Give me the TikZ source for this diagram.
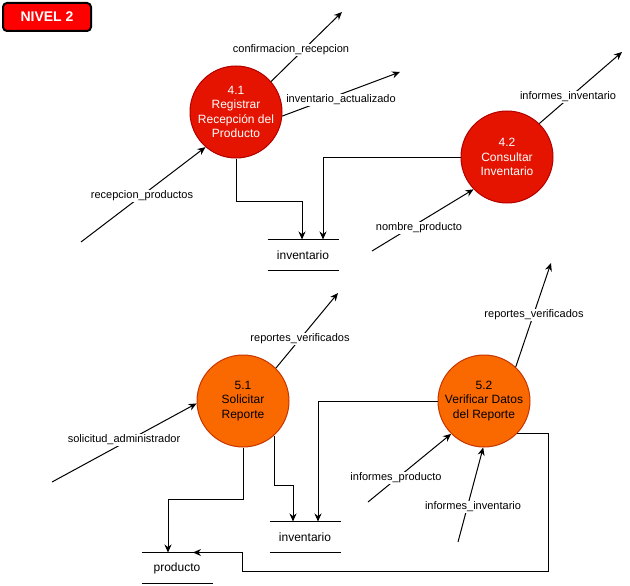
\documentclass[tikz,border=0pt]{standalone}
\usepackage{fontspec}
\setmainfont{Liberation Sans}
\usepackage{xcolor}
\usetikzlibrary{arrows.meta}

\definecolor{procred}{HTML}{E51400}
\definecolor{procredline}{HTML}{B20000}
\definecolor{procorange}{HTML}{FA6800}
\definecolor{procorangeline}{HTML}{C73500}
\definecolor{titlered}{HTML}{FF0000}

\begin{document}
\begin{tikzpicture}[x=1pt, y=-1pt, line width=1pt, >={Stealth[length=8pt,width=7pt]},
  process/.style={circle, minimum size=92pt, inner sep=0pt, align=center,
    font=\fontsize{12}{14.4}\selectfont},
  process red/.style={fill=procred, draw=procredline, text=white},
  process orange/.style={fill=procorange, draw=procorangeline, text=black},
  store/.style={minimum width=70pt, minimum height=30pt, inner sep=0pt,
    font=\fontsize{12}{14}\selectfont},
  flow label/.style={fill=white, inner sep=1pt, font=\fontsize{11}{13}\selectfont},
  title box/.style={rounded corners=4pt, fill=titlered, draw=black, line width=2pt,
    minimum width=88pt, minimum height=28pt, text=white,
    font=\bfseries\fontsize{14}{16}\selectfont}]

\useasboundingbox (0,0) rectangle (630,586);

\node [title box] (nivel) at (47,17) {NIVEL 2};

% processes
\node [process, process red] (p41) at (236,112) {4.1\\Registrar\\Recepción del\\Producto};
\node [process, process red] (p42) at (507,157) {4.2\\Consultar\\Inventario};
\node [process, process orange] (p51) at (243,401) {5.1\\Solicitar\\Reporte};
\node [process, process orange] (p52) at (484,401) {5.2\\Verificar Datos\\del Reporte};

% data stores
\node [store] (inv-1) at (303,255) {inventario};
\node [store] (inv-2) at (305,537) {inventario};
\node [store] (prod) at (177,568) {producto};

\foreach \s in {inv-1,inv-2,prod}
  \draw (\s.north west) -- (\s.north east)
        (\s.south west) -- (\s.south east);

% flows into the stores
\draw [->] (p41.south) -- ++(0,43) -| ([xshift=-1pt]inv-1.north);
\draw [->] (p42.west) -| ([xshift=20pt]inv-1.north);
\draw [->] (p51.south) -- ++(0,52) -| ([xshift=-9pt]prod.north);
\draw [->] (p51.-48) -- ++(0,50) -| ([xshift=-12pt]inv-2.north);
\draw [->] (p52.west) -| ([xshift=13pt]inv-2.north);
\draw [->] (p52.-45) -| ++(32,138) -- ++(-306,0) |- ([xshift=16pt]prod.north);

% outgoing flows
\foreach \p/\a/\ex/\ey/\lx/\ly/\t [count=\i] in {
    p41/41/342/12/291/50/confirmacion\_recepcion,
    p41/-5/400/72/341/100/inventario\_actualizado,
    p42/46/622/52/568/97/informes\_inventario,
    p51/45/338/293/300/339/reportes\_verificados,
    p52/47/551/263/534/315/reportes\_verificados}
{
  \coordinate (out-\i) at (\ex,\ey);
  \draw [->] (\p.\a) -- (out-\i);
  \node [flow label] (out-lbl-\i) at (\lx,\ly) {\t};
}

% incoming flows
\foreach \sx/\sy/\p/\a/\lx/\ly/\t [count=\i] in {
    81/242/p41/229/142/196/recepcion\_productos,
    372/251/p42/224/419/228/nombre\_producto,
    52/482/p51/183/124/440/solicitud\_administrador,
    368/502/p52/225/396/478/informes\_producto,
    458/542/p52/269/473/507/informes\_inventario}
{
  \coordinate (in-\i) at (\sx,\sy);
  \draw [->] (in-\i) -- (\p.\a);
  \node [flow label] (in-lbl-\i) at (\lx,\ly) {\t};
}

\end{tikzpicture}
\end{document}
